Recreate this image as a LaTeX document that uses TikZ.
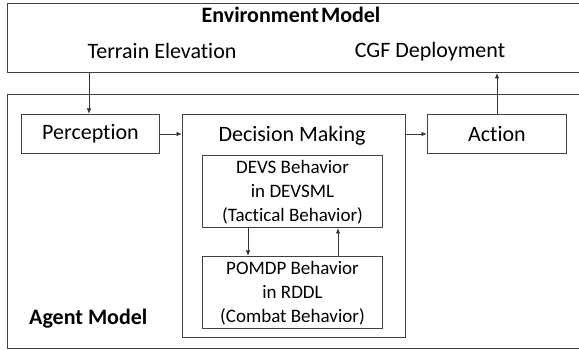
\documentclass[tikz,border=0pt]{standalone}
\usepackage{fontspec}
\setmainfont{Carlito}[Ligatures={NoCommon}]
\usetikzlibrary{arrows.meta}
\tikzset{
  frame/.style={draw=black!75, line width=1pt, rectangle, inner sep=0pt},
  lbl/.style={font=\fontsize{22}{26}\selectfont, inner sep=0pt, align=center},
  sublbl/.style={font=\fontsize{19}{24}\selectfont, inner sep=0pt, align=center},
  boldlbl/.style={font=\fontsize{22}{26}\selectfont\bfseries, inner sep=0pt},
  arr/.style={draw=black!80, line width=0.9pt, -{Latex[length=5.5pt,width=4.5pt]}}
}
\begin{document}
\begin{tikzpicture}[x=1pt,y=-1pt]
  \useasboundingbox (0,0) rectangle (579,350);
  \clip (0,0) rectangle (579,350);

  % outer model frames (run past the right edge)
  \node[frame, minimum width=590pt, minimum height=69pt, anchor=north west] (env) at (7,3) {};
  \node[frame, minimum width=590pt, minimum height=254pt, anchor=north west] (agent) at (7,94) {};

  % environment labels
  \node[boldlbl, anchor=base] (envt) at (291,23) {Environment\kern-3pt\ Model};
  \node[lbl, anchor=base] (terrain) at (162,59) {Terrain Elevation};
  \node[lbl, anchor=base] (cgf) at (430,58) {CGF Deployment};

  % agent components
  \node[frame, minimum width=138pt, minimum height=39pt, anchor=north west] (perc) at (21,114) {};
  \node[lbl] at (perc.center) {Perception};
  \node[frame, minimum width=223pt, minimum height=223pt, anchor=north west] (dm) at (182,114) {};
  \node[lbl, anchor=base] (dmt) at (292,142) {Decision Making};
  \node[frame, minimum width=139pt, minimum height=39pt, anchor=north west] (act) at (427,114) {};
  \node[lbl] at (act.center) {Action};

  \node[frame, minimum width=180pt, minimum height=72pt, anchor=north west] (devs) at (202,155) {};
  \node[sublbl] at ([yshift=-1pt]devs.center) {DEVS Behavior\\in DEVSML\\(Tactical Behavior)};
  \node[frame, minimum width=180pt, minimum height=72pt, anchor=north west] (pomdp) at (202,256) {};
  \node[sublbl] at ([yshift=-1pt]pomdp.center) {POMDP Behavior\\in RDDL\\(Combat Behavior)};

  \node[boldlbl, anchor=base west] (agt) at (29,324) {Agent Model};

  % connector columns
  \coordinate (tx) at (89,0);
  \coordinate (cx) at (497,0);
  \coordinate (dx) at (248,0);
  \coordinate (ux) at (338,0);

  \draw[arr] (env.south -| tx) -- (perc.north -| tx);
  \draw[arr] (perc.east) -- (dm.west |- perc.east);
  \draw[arr] (dm.east |- act.west) -- (act.west);
  \draw[arr] (act.north -| cx) -- (env.south -| cx);
  \draw[arr] (devs.south -| dx) -- (pomdp.north -| dx);
  \draw[arr] (pomdp.north -| ux) -- (devs.south -| ux);
\end{tikzpicture}
\end{document}
